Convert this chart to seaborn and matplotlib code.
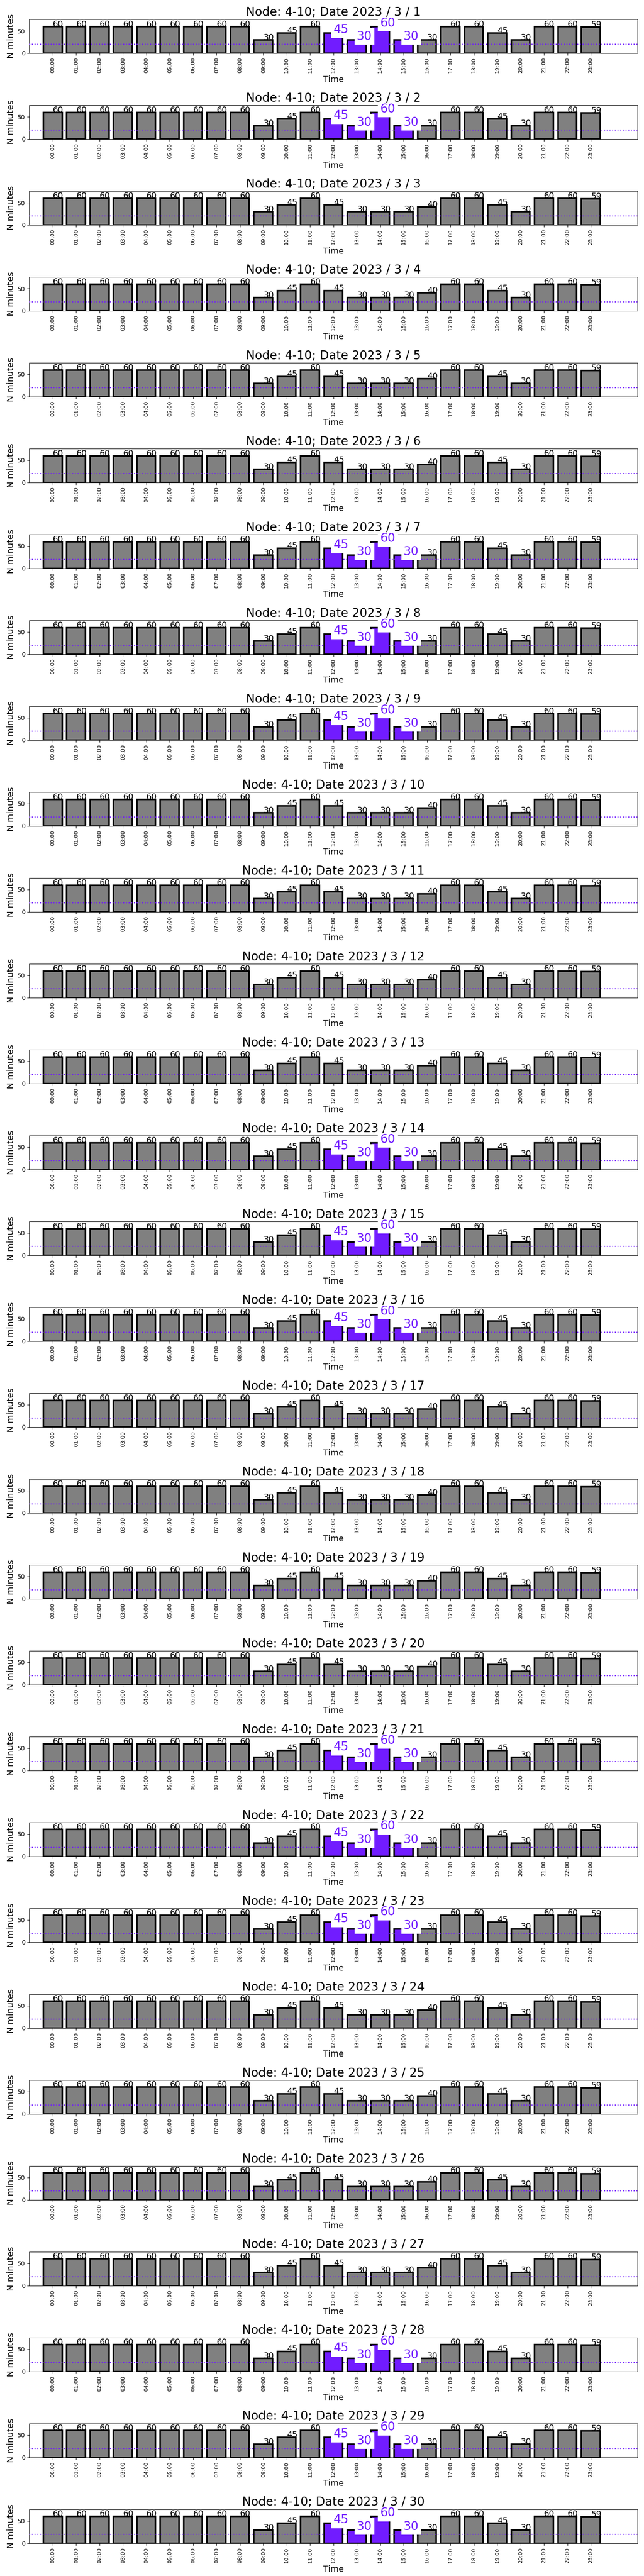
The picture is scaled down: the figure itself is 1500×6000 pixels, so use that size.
import matplotlib
matplotlib.use("Agg")
import matplotlib.pyplot as plt
import seaborn as sns
import pandas as pd

# ---------------- data ----------------
hours = ["%02d:00" % h for h in range(24)]
days = list(range(1, 31))
year, month = 2023, 3
node = "4-10"

# pattern on highlighted days (Tue/Wed/Thu)
values_highlight = [60, 60, 60, 60, 60, 60, 60, 60, 60, 30, 45, 60,
                    45, 30, 60, 30, 30, 60, 60, 45, 30, 60, 60, 59]
# pattern on the other days
values_regular = [60, 60, 60, 60, 60, 60, 60, 60, 60, 30, 45, 60,
                  45, 30, 30, 30, 40, 60, 60, 45, 30, 60, 60, 59]
highlight_days = [1, 2, 7, 8, 9, 14, 15, 16, 21, 22, 23, 28, 29, 30]
highlight_hours = ["12:00", "13:00", "14:00", "15:00"]
threshold = 20

GREY = "#808080"
PURPLE = "#711CFF"

fig, axes = plt.subplots(len(days), 1, figsize=(15, 60), dpi=100)
fig.subplots_adjust(left=0.0455, right=0.990, top=0.9925, bottom=0.0127, hspace=1.532)

for ax, day in zip(axes, days):
    hl = day in highlight_days
    vals = values_highlight if hl else values_regular
    df = pd.DataFrame({"Time": hours, "N minutes": vals})
    palette = {h: (PURPLE if (hl and h in highlight_hours) else GREY) for h in hours}
    sns.barplot(data=df, x="Time", y="N minutes", hue="Time", palette=palette,
                legend=False, saturation=1, edgecolor="black", linewidth=2.6,
                width=0.8, ax=ax)
    for p in ax.patches:
        p.set_zorder(1)
    ax.axhline(threshold, color=PURPLE, linestyle=":", linewidth=1.7, zorder=2.6)
    for i, (h, v) in enumerate(zip(hours, vals)):
        if hl and h in highlight_hours:
            ax.text(i, v, str(v), color=PURPLE, fontsize=20,
                    bbox=dict(facecolor="white", edgecolor="none"), zorder=3)
        else:
            ax.text(i, v, str(v), color="black", fontsize=14, zorder=3)
    ax.set_xlim(-1, 25)
    ax.set_ylim(0, 76)
    ax.set_yticks([0, 50])
    ax.tick_params(axis="y", labelsize=10)
    ax.tick_params(axis="x", labelsize=9, rotation=90)
    ax.set_xlabel("Time", fontsize=14)
    ax.set_ylabel("N minutes", fontsize=14.5)
    ax.set_title("Node: %s; Date %d / %d / %d" % (node, year, month, day), fontsize=20)

fig.savefig("out.png", dpi=100)
